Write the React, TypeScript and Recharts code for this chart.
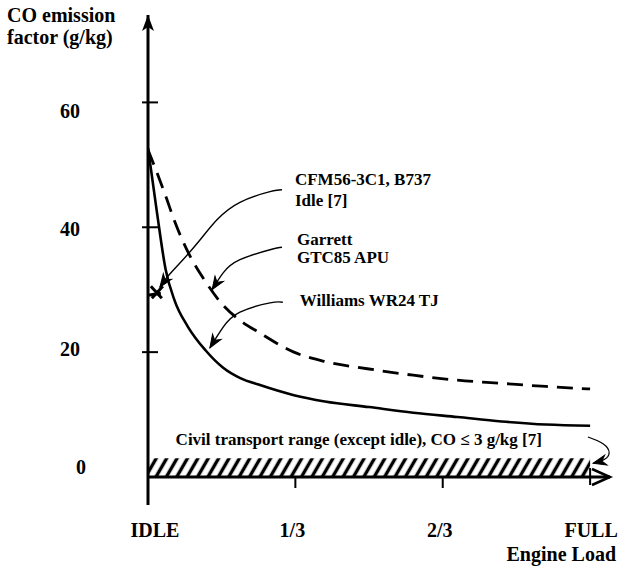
import React from 'react';
import { ComposedChart, Line, XAxis, YAxis, ReferenceArea, ReferenceDot } from 'recharts';

const FONT = '"Liberation Serif", "Times New Roman", serif';

// Engine load (0 = IDLE, 1 = FULL)
const engineLoad = [0, 0.02, 0.04, 0.06, 0.09, 0.13, 0.17, 0.21, 0.25, 0.33, 0.4, 0.5, 0.6, 0.7, 0.8, 0.9, 1.0];
// Williams WR24 TJ (solid)
const williamsWR24 = [52.7, 42.5, 33.2, 28.3, 24.1, 20.3, 17.5, 15.8, 14.8, 13.1, 12.1, 11.2, 10.3, 9.6, 8.9, 8.4, 8.2];
// Garrett GTC85 APU (dashed)
const garrettGTC85 = [52.4, 48.8, 45.0, 41.0, 36.1, 31.3, 27.5, 25.0, 23.2, 20.0, 18.5, 17.3, 16.3, 15.5, 15.0, 14.5, 14.1];

// CFM56-3C1, B737 idle point
const cfmIdleLoad = 0.02;
const cfmIdleCO = 29.6;

// Civil transport range (CO <= 3 g/kg)
const civilRangeMax = 3;

const xTickValues = [0, 1 / 3, 2 / 3, 1];
const xTickLabels = ['IDLE', '1/3', '2/3', 'FULL'];
const yTickValues = [0, 20, 40, 60];

// Annotation leader curves (data coordinates)
const cfmLeaderX = [0.303, 0.276, 0.208, 0.156, 0.118, 0.079, 0.043, 0.027];
const cfmLeaderY = [46.0, 45.7, 44.0, 41.2, 38.0, 34.8, 32.0, 30.4];
const garrettLeaderX = [0.303, 0.276, 0.208, 0.17, 0.145];
const garrettLeaderY = [36.8, 36.4, 34.8, 32.7, 30.0];
const williamsLeaderX = [0.305, 0.276, 0.208, 0.17, 0.14];
const williamsLeaderY = [28.0, 27.9, 26.4, 24.0, 20.7];
const civilLeaderX = [0.995, 1.03, 1.043, 1.032, 1.007];
const civilLeaderY = [6.4, 5.3, 3.9, 2.8, 2.2];

const chartData = engineLoad.map((x, i) => ({ x, williams: williamsWR24[i], garrett: garrettGTC85[i] }));
const toPts = (xs: number[], ys: number[]) => xs.map((x, i) => ({ x, y: ys[i] }));

const arrowDot = (angle: number, last: number) => (props: any) => {
  const { cx, cy, index } = props;
  if (index !== last || cx == null) return <g key={`d${index}`} />;
  return (
    <path
      key={`d${index}`}
      d="M0,0 L-13,-5 L-9,0 L-13,5 Z"
      transform={`translate(${cx},${cy}) rotate(${angle})`}
      fill="#000"
      stroke="#000"
      strokeWidth={1}
    />
  );
};

const textShape = (lines: string[], dx: number, dy0: number, lh: number, anchor: string = 'start') => (props: any) => {
  const { cx, cy } = props;
  return (
    <g>
      {lines.map((l, i) => (
        <text
          key={i}
          x={cx + dx}
          y={cy + dy0 + i * lh}
          textAnchor={anchor}
          fontFamily={FONT}
          fontWeight="bold"
          fontSize={17}
          fill="#000"
        >
          {l}
        </text>
      ))}
    </g>
  );
};

const YTick = (props: any) => {
  const { x, y, payload } = props;
  const v = payload.value;
  const dyMap: Record<number, number> = { 0: -3, 20: 4, 40: 9, 60: 16 };
  const dxMap: Record<number, number> = { 0: -67, 20: -78, 40: -78, 60: -78 };
  return (
    <g>
      {v !== 0 && <line x1={x - 6} x2={x + 10} y1={y} y2={y} stroke="#000" strokeWidth={2} />}
      <text x={x + dxMap[v]} y={y + dyMap[v]} textAnchor="middle" fontFamily={FONT} fontWeight="bold" fontSize={20} fill="#000">
        {v}
      </text>
    </g>
  );
};

const XTick = (props: any) => {
  const { x, y, payload, index } = props;
  const i = xTickValues.findIndex((t) => Math.abs(t - payload.value) < 1e-6);
  const label = xTickLabels[i >= 0 ? i : index];
  let tick;
  if (i === 0) tick = <line x1={x} x2={x} y1={y} y2={y + 28} stroke="#000" strokeWidth={3} />;
  else if (i === 3) tick = <line x1={x} x2={x} y1={y - 9} y2={y + 8} stroke="#000" strokeWidth={2} />;
  else tick = <line x1={x} x2={x} y1={y} y2={y + 11} stroke="#000" strokeWidth={2} />;
  return (
    <g>
      {tick}
      <text x={x + (i === 0 ? 7 : i === 3 ? 1 : -3)} y={y + 60} textAnchor="middle" fontFamily={FONT} fontWeight="bold" fontSize={20} fill="#000">
        {label}
      </text>
    </g>
  );
};

const hatchShape = (props: any) => {
  const { x, y, width, height } = props;
  return (
    <g>
      <defs>
        <pattern id="hatch" patternUnits="userSpaceOnUse" width={9} height={9} patternTransform="rotate(30)">
          <line x1={4.5} y1={0} x2={4.5} y2={9} stroke="#000" strokeWidth={3.4} />
        </pattern>
      </defs>
      <rect x={x} y={y} width={width} height={height} fill="url(#hatch)" stroke="none" />
    </g>
  );
};

const yArrow = (props: any) => {
  const { cx, cy } = props;
  return <path d={`M${cx},${cy} L${cx - 6},${cy + 16} L${cx},${cy + 12} L${cx + 6},${cy + 16} Z`} fill="#000" />;
};

const xArrow = (props: any) => {
  const { cx, cy } = props;
  return (
    <path
      d={`M${cx - 18},${cy - 8} L${cx},${cy} L${cx - 18},${cy + 8}`}
      fill="none"
      stroke="#000"
      strokeWidth={2.5}
    />
  );
};

const crossShape = (props: any) => {
  const { cx, cy } = props;
  return (
    <g stroke="#000" strokeWidth={3}>
      <line x1={cx - 6} y1={cy - 6} x2={cx + 5} y2={cy + 6} />
      <line x1={cx - 5} y1={cy + 6} x2={cx + 6} y2={cy - 6} />
      <line x1={cx - 9} y1={cy + 3} x2={cx + 4} y2={cy + 1} />
    </g>
  );
};

const YTitle = () => (
  <g>
    <text x={7} y={22} fontFamily={FONT} fontWeight="bold" fontSize={20} fill="#000">CO emission</text>
    <text x={7} y={44} fontFamily={FONT} fontWeight="bold" fontSize={20} fill="#000">factor (g/kg)</text>
  </g>
);

const XTitle = () => (
  <text x={616} y={561} textAnchor="end" fontFamily={FONT} fontWeight="bold" fontSize={20} fill="#000">
    Engine Load
  </text>
);

export default function App() {
  return (
    <div style={{ position: 'absolute', left: 0, top: 0, background: '#fff' }}>
      <ComposedChart
        width={624}
        height={567}
        data={chartData}
        margin={{ top: 15, right: 14, bottom: 30, left: 88 }}
      >
        <XAxis
          type="number"
          dataKey="x"
          domain={[0, 1.045]}
          ticks={xTickValues}
          interval={0}
          allowDataOverflow
          tickSize={0}
          tickMargin={0}
          tickLine={false}
          tick={<XTick />}
          axisLine={{ stroke: '#000', strokeWidth: 3 }}
          height={60}
          label={<XTitle />}
        />
        <YAxis
          type="number"
          domain={[0, 74]}
          ticks={yTickValues}
          interval={0}
          allowDataOverflow
          tickSize={0}
          tickMargin={0}
          tickLine={false}
          tick={<YTick />}
          axisLine={{ stroke: '#000', strokeWidth: 3 }}
          width={60}
          label={<YTitle />}
        />
        <ReferenceArea x1={0} x2={1} y1={0} y2={civilRangeMax} shape={hatchShape} ifOverflow="visible" />
        <Line
          dataKey="garrett"
          type="monotone"
          stroke="#000"
          strokeWidth={2.8}
          strokeDasharray="16 9"
          dot={false}
          activeDot={false}
          isAnimationActive={false}
        />
        <Line
          dataKey="williams"
          type="monotone"
          stroke="#000"
          strokeWidth={2.6}
          dot={false}
          activeDot={false}
          isAnimationActive={false}
        />
        <Line
          data={toPts(cfmLeaderX, cfmLeaderY)}
          dataKey="y"
          type="natural"
          stroke="#000"
          strokeWidth={1.4}
          dot={arrowDot(125, cfmLeaderX.length - 1)}
          activeDot={false}
          isAnimationActive={false}
        />
        <Line
          data={toPts(garrettLeaderX, garrettLeaderY)}
          dataKey="y"
          type="natural"
          stroke="#000"
          strokeWidth={1.4}
          dot={arrowDot(123, garrettLeaderX.length - 1)}
          activeDot={false}
          isAnimationActive={false}
        />
        <Line
          data={toPts(williamsLeaderX, williamsLeaderY)}
          dataKey="y"
          type="natural"
          stroke="#000"
          strokeWidth={1.4}
          dot={arrowDot(122, williamsLeaderX.length - 1)}
          activeDot={false}
          isAnimationActive={false}
        />
        <Line
          data={toPts(civilLeaderX, civilLeaderY)}
          dataKey="y"
          type="natural"
          stroke="#000"
          strokeWidth={1.2}
          dot={arrowDot(166, civilLeaderX.length - 1)}
          activeDot={false}
          isAnimationActive={false}
        />
        <ReferenceDot x={cfmIdleLoad} y={cfmIdleCO} shape={crossShape} ifOverflow="visible" />
        <ReferenceDot x={0} y={74} shape={yArrow} ifOverflow="visible" />
        <ReferenceDot x={1.045} y={0} shape={xArrow} ifOverflow="visible" />
        <ReferenceDot x={cfmLeaderX[0]} y={cfmLeaderY[0]} shape={textShape(['CFM56-3C1, B737', 'Idle [7]'], 13, -5, 21)} ifOverflow="visible" />
        <ReferenceDot x={garrettLeaderX[0]} y={garrettLeaderY[0]} shape={textShape(['Garrett', 'GTC85 APU'], 15, -2, 18)} ifOverflow="visible" />
        <ReferenceDot x={williamsLeaderX[0]} y={williamsLeaderY[0]} shape={textShape(['Williams WR24 TJ'], 17, 4, 18)} ifOverflow="visible" />
        <ReferenceDot
          x={civilLeaderX[0]}
          y={civilLeaderY[0]}
          shape={textShape(['Civil transport range (except idle), CO \u2264 3 g/kg [7]'], -46, 8, 18, 'end')}
          ifOverflow="visible"
        />
      </ComposedChart>
    </div>
  );
}
